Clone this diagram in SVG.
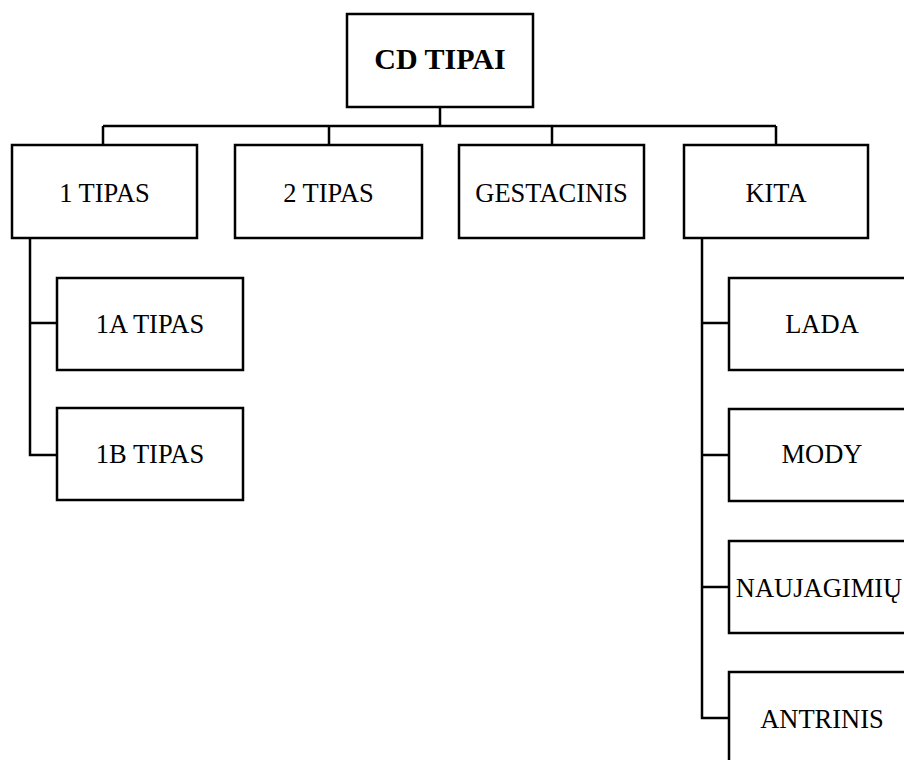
<svg xmlns="http://www.w3.org/2000/svg" width="904" height="760" viewBox="0 0 904 760">
<style>
.box{fill:#fff;stroke:#000;stroke-width:2.5}
.lbl{font-size:26.5px;fill:#000;text-anchor:middle}
.root{font-weight:bold;font-size:30px}
.con{fill:none;stroke:#000;stroke-width:2.5}
</style>
<rect width="904" height="760" fill="#fff"/>
<g id="connectors">
<path class="con" d="M440,107 V126 M103,126 H776 M103,126 V145 M329,126 V145 M552,126 V145 M776,126 V145"/>
<path class="con" d="M30,238 V455 H57 M30,323 H57"/>
<path class="con" d="M702,238 V718 H729 M702,323 H729 M702,455 H729 M702,587 H729"/>
</g>
<g font-family="'Liberation Serif', 'Times New Roman', serif">
<g id="cd-tipai"><rect class="box" x="347" y="14" width="186" height="93"/><text class="lbl root" x="440" y="69">CD TIPAI</text></g>
<g id="tipas1"><rect class="box" x="12" y="145" width="185" height="93"/><text class="lbl" x="104.5" y="202">1 TIPAS</text></g>
<g id="tipas2"><rect class="box" x="235" y="145" width="187" height="93"/><text class="lbl" x="328.5" y="202">2 TIPAS</text></g>
<g id="gestacinis"><rect class="box" x="459" y="145" width="185" height="93"/><text class="lbl" x="551.5" y="202">GESTACINIS</text></g>
<g id="kita"><rect class="box" x="684" y="145" width="184" height="93"/><text class="lbl" x="776" y="202">KITA</text></g>
<g id="tipas1a"><rect class="box" x="57" y="278" width="186" height="92"/><text class="lbl" x="150" y="333">1A TIPAS</text></g>
<g id="tipas1b"><rect class="box" x="57" y="408" width="186" height="92"/><text class="lbl" x="150" y="463">1B TIPAS</text></g>
<g id="lada"><rect class="box" x="729" y="278" width="186" height="92"/><text class="lbl" x="822" y="333">LADA</text></g>
<g id="mody"><rect class="box" x="729" y="409" width="186" height="92"/><text class="lbl" x="822" y="463">MODY</text></g>
<g id="naujagimiu"><rect class="box" x="729" y="541" width="186" height="92"/><text class="lbl" x="819" y="597">NAUJAGIMIŲ</text></g>
<g id="antrinis"><rect class="box" x="729" y="672" width="186" height="92"/><text class="lbl" x="822" y="728">ANTRINIS</text></g>
</g>
</svg>
